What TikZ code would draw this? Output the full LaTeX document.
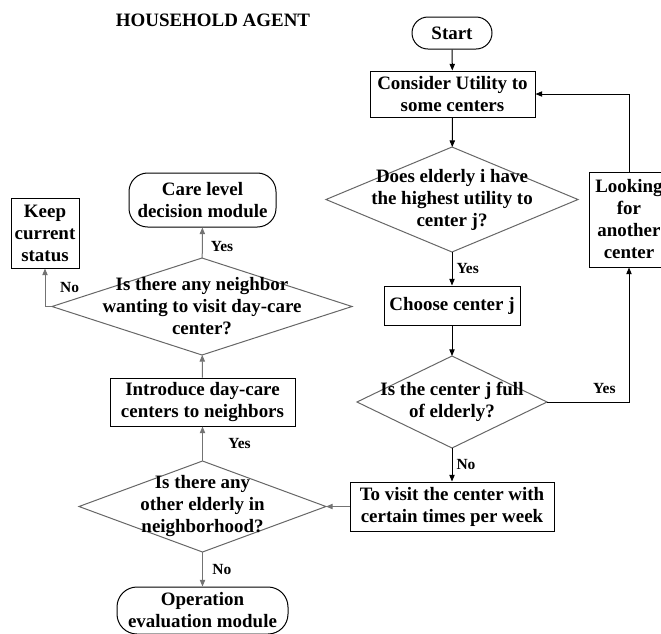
\documentclass[tikz,border=0pt]{standalone}
\usepackage{fontspec}
\setmainfont{Liberation Serif}
\usetikzlibrary{shapes.geometric,arrows.meta,positioning}

\begin{document}
\begin{tikzpicture}[x=0.75pt, y=-0.75pt,
    every node/.style={font=\fontsize{14.2}{16.5}\selectfont\bfseries},
    box/.style={draw, line width=0.75pt, align=center, inner sep=0pt},
    term/.style={box, rounded corners=12pt},
    decision/.style={draw=black!60, line width=0.75pt, diamond, inner sep=0pt, outer sep=0pt},
    lbl/.style={font=\fontsize{11.6}{13}\selectfont\bfseries, inner sep=1pt},
    arr/.style={-{Triangle[length=5pt,width=4pt]}, line width=0.75pt},
    garr/.style={arr, draw=black!55}]

    % Page frame (the reference is cut at the right and bottom edges)
    \useasboundingbox (0,0) rectangle (661,633);
    \clip (0,0) rectangle (661,633);

    \node (title) at (213,20) {HOUSEHOLD AGENT};

    % Right column
    \node[term, minimum width=60pt, minimum height=24pt] (start) at (452,33) {Start};
    \node[box, minimum width=123.75pt, minimum height=34.5pt] (consider) at (452.5,94) {Consider Utility to\\some centers};
    \node[decision, minimum width=189pt, minimum height=78.75pt,
        label={[align=center]center:Does elderly i have\\the highest utility to\\center j?}] (highest) at (452,199.5) {};
    \node[box, minimum width=102pt, minimum height=29.25pt] (choose) at (452,305.5) {Choose center j};
    \node[decision, minimum width=142.5pt, minimum height=69pt,
        label={[align=center]center:Is the center j full\\of elderly?}] (full) at (452,402) {};
    \node[box, minimum width=153pt, minimum height=36.75pt] (visit) at (452,506.5) {To visit the center with\\certain times per week};
    \node[box, minimum width=60pt, minimum height=71.25pt] (look) at (629,219.5) {Looking\\for\\another\\center};

    % Left column
    \node[decision, minimum width=185.25pt, minimum height=68.25pt,
        label={[align=center]center:Is there any\\other elderly in\\neighborhood?}] (other) at (202.5,506.5) {};
    \node[term, rounded corners=15pt, minimum width=128.25pt, minimum height=35.25pt] (oper) at (202.5,610.5) {Operation\\evaluation module};
    \node[box, minimum width=138.75pt, minimum height=36pt] (intro) at (202.5,402) {Introduce day-care\\centers to neighbors};
    \node[decision, minimum width=225pt, minimum height=72.75pt,
        label={[align=center]center:Is there any neighbor\\wanting to visit day-care\\center?}] (neighbor) at (202,306.5) {};
    \node[term, rounded corners=14pt, minimum width=110.25pt, minimum height=40.5pt] (care) at (202.5,200) {Care level\\decision module};
    \node[box, minimum width=51pt, minimum height=52.5pt] (keep) at (45,233) {Keep\\current\\status};

    % Connectors
    \draw[arr] (start) -- (consider);
    \draw[arr] (consider) -- (highest);
    \draw[arr] (highest) -- node[lbl, right=2pt] (yes1) {Yes} (choose);
    \draw[arr] (choose) -- (full);
    \draw[arr] (full.east) -| node[lbl, above=5pt, pos=0.35] (yes2) {Yes} (look.south);
    \draw[arr] (look.north) |- (consider.east);
    \draw[arr] (full) -- node[lbl, right=2pt] (no1) {No} (visit);
    \draw[garr] (visit.west) -- (other.east);
    \draw[garr] (other) -- node[lbl, right=18pt] (yes3) {Yes} (intro);
    \draw[garr] (other) -- node[lbl, right=6pt] (no2) {No} (oper);
    \draw[garr] (intro) -- (neighbor);
    \draw[garr] (neighbor) -- node[lbl, right=5pt, yshift=-3pt] (yes4) {Yes} (care);
    \draw[garr] (neighbor.west) -| node[lbl, right=10pt, pos=0.75] (no3) {No} (keep.south);
\end{tikzpicture}
\end{document}
